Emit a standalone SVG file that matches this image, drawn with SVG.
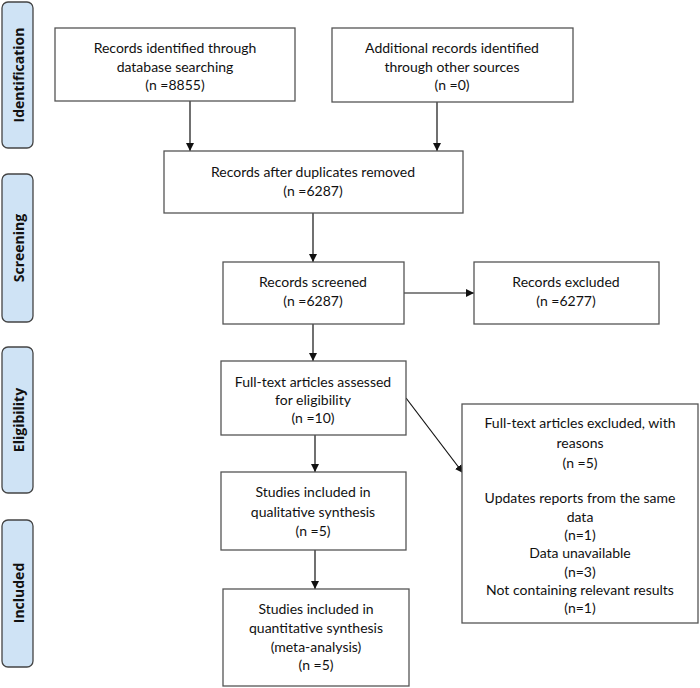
<svg xmlns="http://www.w3.org/2000/svg" width="700" height="688" viewBox="0 0 700 688">
<style>
.box{fill:#fff;stroke:#555;stroke-width:1.3}
.side{fill:#cfe3f5;stroke:#444;stroke-width:1.3}
.t{font-family:Lato,"Liberation Sans",sans-serif;font-size:14px;fill:#111;text-anchor:middle}
.s{font-family:"Open Sans","Liberation Sans",sans-serif;font-size:14px;font-weight:bold;fill:#111;text-anchor:middle}
.c{stroke:#111;stroke-width:1.2;fill:none}
</style>
<defs>
<marker id="ah" viewBox="0 0 10 10" refX="10" refY="5" markerWidth="8" markerHeight="8" markerUnits="userSpaceOnUse" orient="auto">
<path d="M0,0 L10,5 L0,10 z" fill="#111"/>
</marker>
</defs>
<rect width="700" height="688" fill="#fff"/>
<g id="phases">
<g id="phase-identification"><rect class="side" x="2" y="2" width="31" height="146" rx="6"/><text class="s" transform="translate(24,75) rotate(-90)">Identification</text></g>
<g id="phase-screening"><rect class="side" x="2" y="174" width="31" height="148" rx="6"/><text class="s" transform="translate(24,248) rotate(-90)">Screening</text></g>
<g id="phase-eligibility"><rect class="side" x="2" y="347" width="31" height="146" rx="6"/><text class="s" transform="translate(24,420) rotate(-90)">Eligibility</text></g>
<g id="phase-included"><rect class="side" x="2" y="520" width="31" height="147" rx="6"/><text class="s" transform="translate(24,593) rotate(-90)">Included</text></g>
</g>
<g id="connectors">
<line class="c" x1="190" y1="101" x2="190" y2="151" marker-end="url(#ah)"/>
<line class="c" x1="437" y1="102" x2="437" y2="151" marker-end="url(#ah)"/>
<line class="c" x1="313" y1="213" x2="313" y2="262" marker-end="url(#ah)"/>
<line class="c" x1="404" y1="293" x2="474" y2="293" marker-end="url(#ah)"/>
<line class="c" x1="313" y1="324" x2="313" y2="361" marker-end="url(#ah)"/>
<line class="c" x1="406" y1="398" x2="463" y2="473" marker-end="url(#ah)"/>
<line class="c" x1="315" y1="435" x2="315" y2="472" marker-end="url(#ah)"/>
<line class="c" x1="315" y1="550" x2="315" y2="589" marker-end="url(#ah)"/>
</g>
<g id="n1"><rect class="box" x="55" y="28" width="240" height="73"/>
<text class="t" x="175" y="53">Records identified through</text>
<text class="t" x="175" y="72">database searching</text>
<text class="t" x="175" y="90">(n =8855)</text></g>
<g id="n2"><rect class="box" x="332" y="28" width="241" height="74"/>
<text class="t" x="452" y="53">Additional records identified</text>
<text class="t" x="452" y="72">through other sources</text>
<text class="t" x="452" y="90">(n =0)</text></g>
<g id="n3"><rect class="box" x="164" y="151" width="299" height="62"/>
<text class="t" x="313" y="177">Records after duplicates removed</text>
<text class="t" x="313" y="196">(n =6287)</text></g>
<g id="n4"><rect class="box" x="223" y="262" width="181" height="62"/>
<text class="t" x="313" y="287">Records screened</text>
<text class="t" x="313" y="306">(n =6287)</text></g>
<g id="n5"><rect class="box" x="474" y="262" width="185" height="62"/>
<text class="t" x="566" y="287">Records excluded</text>
<text class="t" x="566" y="306">(n =6277)</text></g>
<g id="n6"><rect class="box" x="221" y="361" width="185" height="74"/>
<text class="t" x="313" y="387">Full-text articles assessed</text>
<text class="t" x="313" y="405">for eligibility</text>
<text class="t" x="313" y="423">(n =10)</text></g>
<g id="n7"><rect class="box" x="462" y="404" width="236" height="219"/>
<text class="t" x="580" y="428">Full-text articles excluded, with</text>
<text class="t" x="580" y="448">reasons</text>
<text class="t" x="580" y="468">(n =5)</text>
<text class="t" x="580" y="503">Updates reports from the same</text>
<text class="t" x="580" y="522">data</text>
<text class="t" x="580" y="540">(n=1)</text>
<text class="t" x="580" y="558">Data unavailable</text>
<text class="t" x="580" y="577">(n=3)</text>
<text class="t" x="580" y="595">Not containing relevant results</text>
<text class="t" x="580" y="613">(n=1)</text></g>
<g id="n8"><rect class="box" x="221" y="472" width="185" height="78"/>
<text class="t" x="313" y="497">Studies included in</text>
<text class="t" x="313" y="517">qualitative synthesis</text>
<text class="t" x="313" y="536">(n =5)</text></g>
<g id="n9"><rect class="box" x="223" y="589" width="186" height="97"/>
<text class="t" x="316" y="614">Studies included in</text>
<text class="t" x="316" y="633">quantitative synthesis</text>
<text class="t" x="316" y="652">(meta-analysis)</text>
<text class="t" x="316" y="670">(n =5)</text></g>
</svg>
